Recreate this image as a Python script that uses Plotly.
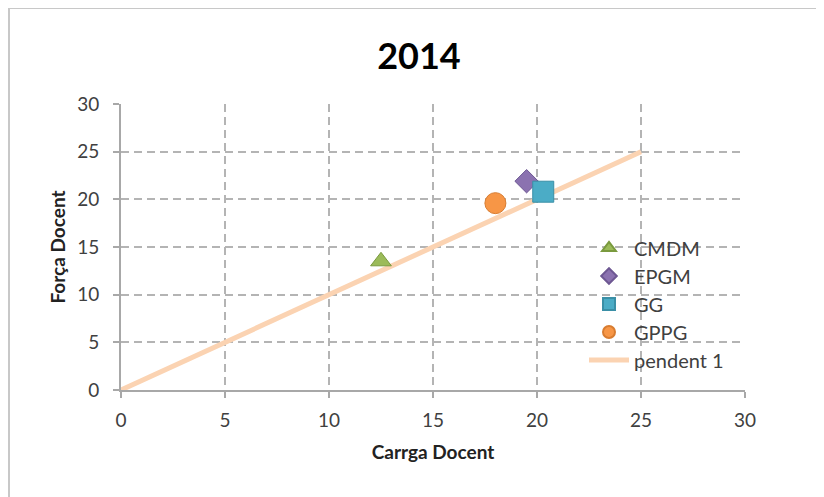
import plotly.graph_objects as go

# data
grups = ["CMDM", "EPGM", "GG", "GPPG"]
carrega = [12.5, 19.5, 20.3, 18.0]
forca = [13.5, 21.9, 20.8, 19.6]
simbols = ["triangle-up", "diamond", "square", "circle"]
colors = ["#9BBB59", "#8B72B0", "#4BACC6", "#F79646"]
vores = ["#7A9A3E", "#6E5893", "#3A8FA6", "#D87C30"]
mides = [18, 18, 21, 21]

pendent_x = [0, 25]
pendent_y = [0, 25]
ticks = [0, 5, 10, 15, 20, 25, 30]

font = "Lato"
gris = "#404040"

# page body has an 8px margin, so the figure is shifted by 8px
OFF = 8
W, H = 824 - OFF, 497 - OFF
L, R, T, B = 121, 745, 104, 390  # plot area in window pixels


def px_y(y):
    return (B - y) / (B - T)


def px_x(x):
    return (x - L) / (R - L)


fig = go.Figure()

fig.add_trace(go.Scatter(
    x=pendent_x, y=pendent_y, mode="lines", name="pendent 1",
    line=dict(color="#FBD3B2", width=5), legend="legend5",
))

for i, (g, x, y, s, c, v, m) in enumerate(zip(grups, carrega, forca, simbols, colors, vores, mides)):
    fig.add_trace(go.Scatter(
        x=[x], y=[y], mode="markers", name=g,
        marker=dict(symbol=s, size=m, color=c, line=dict(color=v, width=1)),
        legend="legend" if i == 0 else "legend%d" % (i + 1),
    ))

axis = dict(
    range=[0, 30], tickvals=ticks, showgrid=True, gridcolor="#B4B4B4",
    griddash="8px,5px", gridwidth=2, showline=True, linecolor="#A8A8A8",
    linewidth=2, ticks="outside", ticklen=6, tickcolor="#A8A8A8", tickwidth=2,
    tickfont=dict(family=font, size=19, color=gris), zeroline=False,
    fixedrange=True,
)

# one legend per entry so the rows get the wider spacing of the original
leg = dict(xanchor="left", yanchor="middle", bgcolor="rgba(0,0,0,0)",
           itemsizing="constant", itemwidth=40,
           font=dict(family=font, size=20, color=gris))
legends = {}
for i, yc in enumerate([248, 276, 304, 332, 360]):
    key = "legend" if i == 0 else "legend%d" % (i + 1)
    legends[key] = dict(leg, x=px_x(584), y=px_y(yc))

fig.update_layout(
    width=W, height=H,
    margin=dict(l=L - OFF, r=W + OFF - R, t=T - OFF, b=H + OFF - B),
    paper_bgcolor="white", plot_bgcolor="white",
    title=dict(text="<b>2014</b>", x=(419 - OFF) / W, xanchor="center",
               y=1 - (56 - OFF) / H, yanchor="middle",
               font=dict(family=font, size=36, color="black")),
    xaxis=dict(axis, ticklabelstandoff=6,
               title=dict(text="<b>Carrga Docent</b>", standoff=16,
                          font=dict(family=font, size=19, color="#222"))),
    yaxis=dict(axis, ticklabelstandoff=10,
               title=dict(text="<b>Força Docent</b>", standoff=7,
                          font=dict(family=font, size=19, color="#222"))),
    showlegend=True,
    **legends,
)

# outer frame of the chart
fig.add_shape(type="rect", xref="paper", yref="paper",
              x0=px_x(9), x1=px_x(840), y0=px_y(520), y1=px_y(8),
              line=dict(color="#C8C8C8", width=2), layer="below")

fig.write_html("out.html")
